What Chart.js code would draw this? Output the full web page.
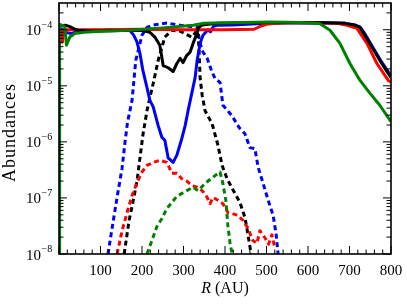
<!DOCTYPE html>
<html>
<head>
<meta charset="utf-8">
<script src="https://cdn.jsdelivr.net/npm/chart.js@4.4.1/dist/chart.umd.min.js"></script>
<style>
html, body { margin: 0; padding: 0; background: #fff; }
canvas { display: block; }
</style>
</head>
<body>
<canvas id="c" width="407" height="305"></canvas>
<script>
// radius (AU) / abundance pairs
const blueR = [0, 10, 20, 30, 45, 70, 100, 150, 165, 171, 180, 188, 195, 202, 212, 219, 227, 239, 248, 255, 263, 275, 284, 296, 304, 311, 320, 328, 333, 340, 347, 359, 365, 372, 381, 419, 500, 600, 690, 712, 725, 737, 749, 773, 800];
const blue = [1.05e-4, 1.0e-4, 8.8e-5, 8.6e-5, 9.2e-5, 9.5e-5, 9.7e-5, 1.0e-4, 1.0e-4, 9.7e-5, 8.0e-5, 6.0e-5, 3.8e-5, 1.9e-5, 9.3e-6, 5.5e-6, 4.2e-6, 1.95e-6, 1.2e-6, 1.07e-6, 5.2e-7, 4.3e-7, 5.8e-7, 1.15e-6, 1.95e-6, 3.6e-6, 7.4e-6, 1.4e-5, 2.9e-5, 5.7e-5, 8.0e-5, 1.0e-4, 9.2e-5, 1.15e-4, 1.2e-4, 1.22e-4, 1.3e-4, 1.33e-4, 1.3e-4, 1.22e-4, 1.12e-4, 8.5e-5, 6.0e-5, 3.0e-5, 1.5e-5];

const blackR = [0, 5, 15, 25, 35, 45, 70, 100, 150, 200, 219, 231, 243, 251, 263, 275, 284, 292, 299, 308, 316, 323, 333, 336, 345, 380, 450, 550, 650, 690, 712, 725, 737, 749, 773, 800];
const black = [1.1e-4, 1.18e-4, 1.2e-4, 1.15e-4, 1.05e-4, 9.8e-5, 9.5e-5, 9.5e-5, 9.7e-5, 9.8e-5, 9.0e-5, 7.4e-5, 5.3e-5, 2.3e-5, 2.1e-5, 1.8e-5, 2.5e-5, 3.1e-5, 2.6e-5, 3.5e-5, 4.0e-5, 5.7e-5, 8.7e-5, 1.1e-4, 1.22e-4, 1.3e-4, 1.33e-4, 1.35e-4, 1.33e-4, 1.3e-4, 1.22e-4, 1.1e-4, 8.0e-5, 5.7e-5, 2.85e-5, 1.4e-5];

const redR = [0, 5, 8, 11, 20, 50, 100, 200, 300, 400, 470, 485, 500, 520, 560, 620, 670, 695, 718, 742, 766, 793, 800];
const red = [1.0e-4, 9.5e-5, 6.0e-5, 9.5e-5, 1.0e-4, 1.0e-4, 1.0e-4, 1.02e-4, 1.0e-4, 1.0e-4, 1.02e-4, 1.15e-4, 1.25e-4, 1.3e-4, 1.33e-4, 1.33e-4, 1.3e-4, 1.2e-4, 1.06e-4, 5.7e-5, 2.5e-5, 1.26e-5, 1.15e-5];

const greenR = [0.5, 1.5, 8, 14, 18, 26, 38, 60, 100, 170, 250, 323, 347, 412, 508, 580, 610, 629, 653, 677, 701, 725, 749, 773, 800];
const green = [1e-9, 1.25e-4, 1.2e-4, 1.12e-4, 5.3e-5, 7.4e-5, 8.6e-5, 9.0e-5, 9.4e-5, 9.8e-5, 1.08e-4, 1.2e-4, 1.3e-4, 1.33e-4, 1.37e-4, 1.35e-4, 1.32e-4, 1.28e-4, 9.8e-5, 5.7e-5, 2.5e-5, 1.26e-5, 7.4e-6, 4.5e-6, 2.3e-6];

// dotted curves
const blueDotR = [118, 130, 142, 152, 159, 165, 176, 185, 200, 212, 224, 260, 292, 333, 340, 347, 357, 369, 376, 388, 395, 407, 419, 434, 448, 460, 472, 480, 492, 504, 516, 523, 528];
const blueDot = [1e-8, 3.6e-8, 1.26e-7, 3.4e-7, 9.8e-7, 2.2e-6, 5.5e-6, 2.85e-5, 8.0e-5, 1.1e-4, 1.2e-4, 1.32e-4, 1.2e-4, 1.11e-4, 5.7e-5, 4.0e-5, 3.1e-5, 1.74e-5, 1.35e-5, 1.15e-5, 4.5e-6, 3.6e-6, 2.75e-6, 1.8e-6, 1.4e-6, 7.9e-7, 7.6e-7, 3.5e-7, 1.8e-7, 9.1e-8, 4.9e-8, 2.3e-8, 1e-8];

const blackDotR = [157, 169, 178, 188, 195, 202, 212, 219, 227, 239, 255, 272, 292, 306, 320, 333, 337, 340, 345, 352, 369, 383, 393, 405, 419, 436, 448, 455, 463];
const blackDot = [1e-8, 4e-8, 8.3e-8, 2e-7, 5.1e-7, 1.3e-6, 3.6e-6, 6.2e-6, 1.1e-5, 2.85e-5, 7.4e-5, 9.8e-5, 9.4e-5, 8.3e-5, 7.4e-5, 9.8e-5, 5.3e-5, 1.4e-5, 6.8e-6, 3.6e-6, 2.1e-6, 8.7e-7, 3.8e-7, 2.2e-7, 1.4e-7, 8.3e-8, 4.5e-8, 2.3e-8, 1e-8];

const redDotR = [140, 152, 164, 176, 188, 200, 212, 227, 243, 260, 272, 284, 296, 308, 320, 333, 345, 357, 364, 371, 383, 395, 407, 419, 431, 443, 455, 467, 477, 484, 496, 505, 513, 520];
const redDot = [1e-8, 2.6e-8, 5.5e-8, 1.1e-7, 1.9e-7, 2.9e-7, 3.8e-7, 4.3e-7, 4.7e-7, 4.3e-7, 2.75e-7, 2.75e-7, 2.2e-7, 2.0e-7, 1.66e-7, 1.55e-7, 1.35e-7, 1.02e-7, 7.9e-8, 1.02e-7, 9.1e-8, 7.9e-8, 5.5e-8, 5.2e-8, 4.9e-8, 4.0e-8, 2.9e-8, 1.74e-8, 1.55e-8, 2.6e-8, 1.95e-8, 1.5e-8, 2.2e-8, 1.3e-8];

const greenDotR = [212, 224, 236, 248, 260, 272, 284, 296, 308, 323, 335, 347, 359, 376, 388, 395, 402, 407, 412, 417];
const greenDot = [1e-8, 1.74e-8, 3.1e-8, 4.3e-8, 6.5e-8, 8.3e-8, 1.07e-7, 1.2e-7, 1.35e-7, 1.55e-7, 1.35e-7, 1.66e-7, 2.0e-7, 2.5e-7, 2.9e-7, 1.8e-7, 9.1e-8, 3.2e-8, 1.6e-8, 1e-8];

// axes
const xLabels = [100, 200, 300, 400, 500, 600, 700, 800];
const yDecades = [-8, -7, -6, -5, -4];

const line = (r, v, color, dotted, order) => ({
    data: r.map((x, i) => ({ x, y: v[i] })),
    borderColor: color,
    borderWidth: 3,
    borderDash: dotted ? [5, 3.5] : [],
    borderJoinStyle: 'round',
    pointRadius: 0,
    tension: 0,
    fill: false,
    clip: 0,
    order: order
});

const SERIF = '"Liberation Serif"';

// matplotlib-style frame: inward ticks on all four sides + labels
const framePlugin = {
    id: 'frame',
    afterDatasetsDraw(chart) {
        const { ctx, chartArea: a, scales: { x, y } } = chart;
        ctx.save();
        ctx.strokeStyle = '#000';
        ctx.lineWidth = 1;
        ctx.beginPath();
        for (let v = 0; v <= 800; v += 20) {
            const px = x.getPixelForValue(v);
            const len = v % 100 === 0 ? 8 : 4.5;
            ctx.moveTo(px, a.bottom); ctx.lineTo(px, a.bottom - len);
            ctx.moveTo(px, a.top); ctx.lineTo(px, a.top + len);
        }
        yDecades.forEach(e => {
            for (let m = 1; m < 10; m++) {
                const v = m * Math.pow(10, e);
                if (v > y.max) break;
                const py = y.getPixelForValue(v);
                const len = m === 1 ? 8 : 4.5;
                ctx.moveTo(a.left, py); ctx.lineTo(a.left + len, py);
                ctx.moveTo(a.right, py); ctx.lineTo(a.right - len, py);
            }
        });
        ctx.stroke();
        ctx.lineWidth = 1.6;
        ctx.strokeRect(a.left, a.top, a.right - a.left, a.bottom - a.top);

        ctx.fillStyle = '#000';
        ctx.textBaseline = 'alphabetic';
        ctx.font = '15px ' + SERIF;
        ctx.textAlign = 'center';
        xLabels.forEach(v => ctx.fillText(String(v), x.getPixelForValue(v), a.bottom + 21));

        yDecades.forEach(e => {
            const py = y.getPixelForValue(Math.pow(10, e));
            ctx.font = '15px ' + SERIF;
            ctx.textAlign = 'right';
            ctx.fillText('10', a.left - 18, py + 5.5);
            ctx.font = '10px ' + SERIF;
            ctx.textAlign = 'left';
            ctx.fillText('\u2212' + Math.abs(e), a.left - 17.5, py - 2);
        });

        // x title: italic R + (AU)
        const cx = (a.left + a.right) / 2;
        ctx.textAlign = 'left';
        ctx.font = 'italic 16px ' + SERIF;
        const wR = ctx.measureText('R').width;
        ctx.font = '16px ' + SERIF;
        const wRest = ctx.measureText(' (AU)').width;
        const sx = cx - (wR + wRest) / 2;
        ctx.font = 'italic 16px ' + SERIF;
        ctx.fillText('R', sx, 293);
        ctx.font = '16px ' + SERIF;
        ctx.fillText(' (AU)', sx + wR, 293);

        // y title
        ctx.save();
        ctx.translate(15, (a.top + a.bottom) / 2 + 4);
        ctx.rotate(-Math.PI / 2);
        ctx.textAlign = 'center';
        ctx.font = '18px ' + SERIF;
        ctx.letterSpacing = '1px';
        ctx.fillText('Abundances', 0, 0);
        ctx.restore();
        ctx.restore();
    }
};

new Chart(document.getElementById('c'), {
    type: 'line',
    data: {
        datasets: [
            line(greenR, green, '#008000', false, 1),
            line(blackR, black, '#000000', false, 2),
            line(redR, red, '#ff0000', false, 3),
            line(blueR, blue, '#0000ff', false, 4),
            line(greenDotR, greenDot, '#008000', true, 5),
            line(redDotR, redDot, '#ff0000', true, 6),
            line(blackDotR, blackDot, '#000000', true, 7),
            line(blueDotR, blueDot, '#0000ff', true, 8)
        ]
    },
    options: {
        responsive: false,
        animation: false,
        devicePixelRatio: 1,
        layout: { padding: { left: 59, right: 16, top: 3, bottom: 51 } },
        plugins: { legend: { display: false }, tooltip: { enabled: false } },
        scales: {
            x: { type: 'linear', min: 0, max: 800, display: false },
            y: { type: 'logarithmic', min: 1e-8, max: 3e-4, display: false }
        }
    },
    plugins: [framePlugin]
});
</script>
</body>
</html>
